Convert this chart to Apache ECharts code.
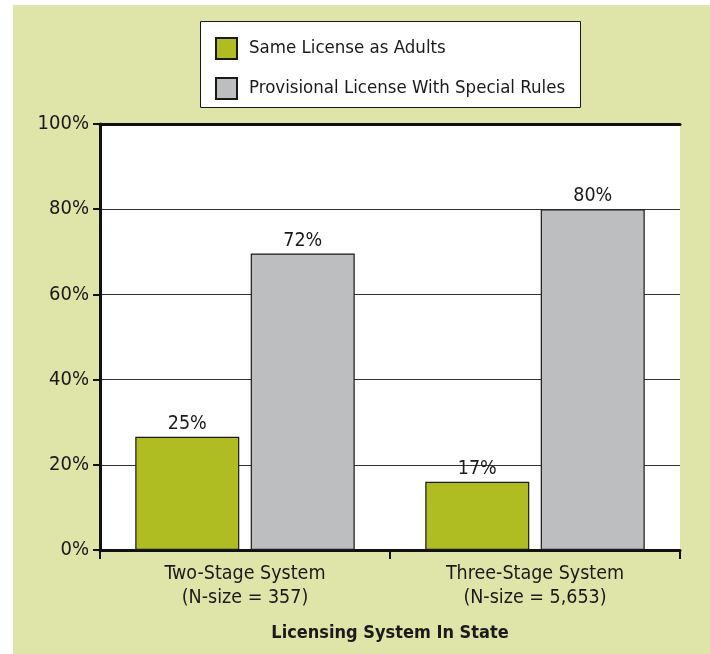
<!DOCTYPE html>
<html>
<head>
<meta charset="utf-8">
<script src="https://cdn.jsdelivr.net/npm/echarts@6/dist/echarts.min.js"></script>
<style>
html,body{margin:0;padding:0;background:#ffffff;}
#chart{width:710px;height:654px;}
</style>
</head>
<body>
<div id="chart"></div>
<script>
const categories = ['Two-Stage System\n(N-size = 357)', 'Three-Stage System\n(N-size = 5,653)'];
const seriesNames = ['Same License as Adults', 'Provisional License With Special Rules'];
const sameLicense = [26.6, 16.0];
const provisional = [69.6, 80.0];
const sameLabels = ['25%', '17%'];
const provLabels = ['72%', '80%'];
const yTicks = [0, 20, 40, 60, 80, 100];
const axisTitle = 'Licensing System In State';

const FONT = "'Liberation Sans Narrow', 'DejaVu Sans Condensed', 'Roboto', sans-serif";
const TXT = '#1a1a1a';

const chart = echarts.init(document.getElementById('chart'), null, {renderer: 'canvas'});
const option = {
  animation: false,
  backgroundColor: '#ffffff',
  graphic: [
    {type: 'rect', z: -10, silent: true, shape: {x: 13, y: 5, width: 697, height: 649}, style: {fill: '#dfe4a9'}},
    {type: 'rect', z: -5, silent: true, shape: {x: 100, y: 124, width: 580, height: 426}, style: {fill: '#ffffff'}},
    {type: 'rect', z: 1, silent: true, shape: {x: 200.5, y: 21.5, width: 380, height: 86}, style: {fill: '#ffffff', stroke: '#1a1a1a', lineWidth: 1}}
  ],
  legend: {
    orient: 'vertical',
    left: 201,
    top: 25,
    z: 10,
    padding: [12, 10, 10, 14],
    itemWidth: 21,
    itemHeight: 21,
    itemGap: 17,
    icon: 'rect',
    data: seriesNames,
    textStyle: {fontFamily: FONT, fontSize: 18.5, color: TXT, padding: [0, 0, 0, 7]}
  },
  grid: {left: 100, right: 30, top: 124, bottom: 104, containLabel: false},
  xAxis: [
    {
      type: 'category',
      data: categories,
      position: 'bottom',
      axisLine: {lineStyle: {color: '#111', width: 3}},
      axisTick: {show: true, length: 9, lineStyle: {color: '#111', width: 2}},
      axisLabel: {fontFamily: FONT, fontSize: 19.5, color: TXT, lineHeight: 24, margin: 12},
      name: axisTitle,
      nameLocation: 'middle',
      nameGap: 74,
      nameTextStyle: {fontFamily: FONT, fontSize: 18, fontWeight: 'bold', color: TXT}
    },
    {
      type: 'category',
      data: categories,
      position: 'top',
      axisLine: {lineStyle: {color: '#111', width: 3}},
      axisTick: {show: false},
      axisLabel: {show: false}
    }
  ],
  yAxis: {
    type: 'value',
    min: 0,
    max: 100,
    interval: 20,
    axisLine: {show: true, lineStyle: {color: '#111', width: 3}},
    axisTick: {show: true, length: 7, lineStyle: {color: '#111', width: 2}},
    axisLabel: {fontFamily: FONT, fontSize: 20, color: TXT, margin: 11,
      formatter: v => yTicks.includes(v) ? v + '%' : ''},
    splitLine: {show: true, lineStyle: {color: '#333', width: 1}}
  },
  series: [
    {
      name: seriesNames[0],
      type: 'bar',
      data: sameLicense,
      barWidth: 104,
      barGap: '11%',
      itemStyle: {color: '#b0bd22', borderColor: '#1a1a1a', borderWidth: 1.2},
      label: {show: true, position: 'top', distance: 3, fontFamily: FONT, fontSize: 19.5, color: TXT,
        formatter: p => sameLabels[p.dataIndex]}
    },
    {
      name: seriesNames[1],
      type: 'bar',
      data: provisional,
      barWidth: 104,
      barGap: '11%',
      itemStyle: {color: '#bdbec0', borderColor: '#1a1a1a', borderWidth: 1.2},
      label: {show: true, position: 'top', distance: 3, fontFamily: FONT, fontSize: 19.5, color: TXT,
        formatter: p => provLabels[p.dataIndex]}
    }
  ]
};
chart.setOption(option);
</script>
</body>
</html>
